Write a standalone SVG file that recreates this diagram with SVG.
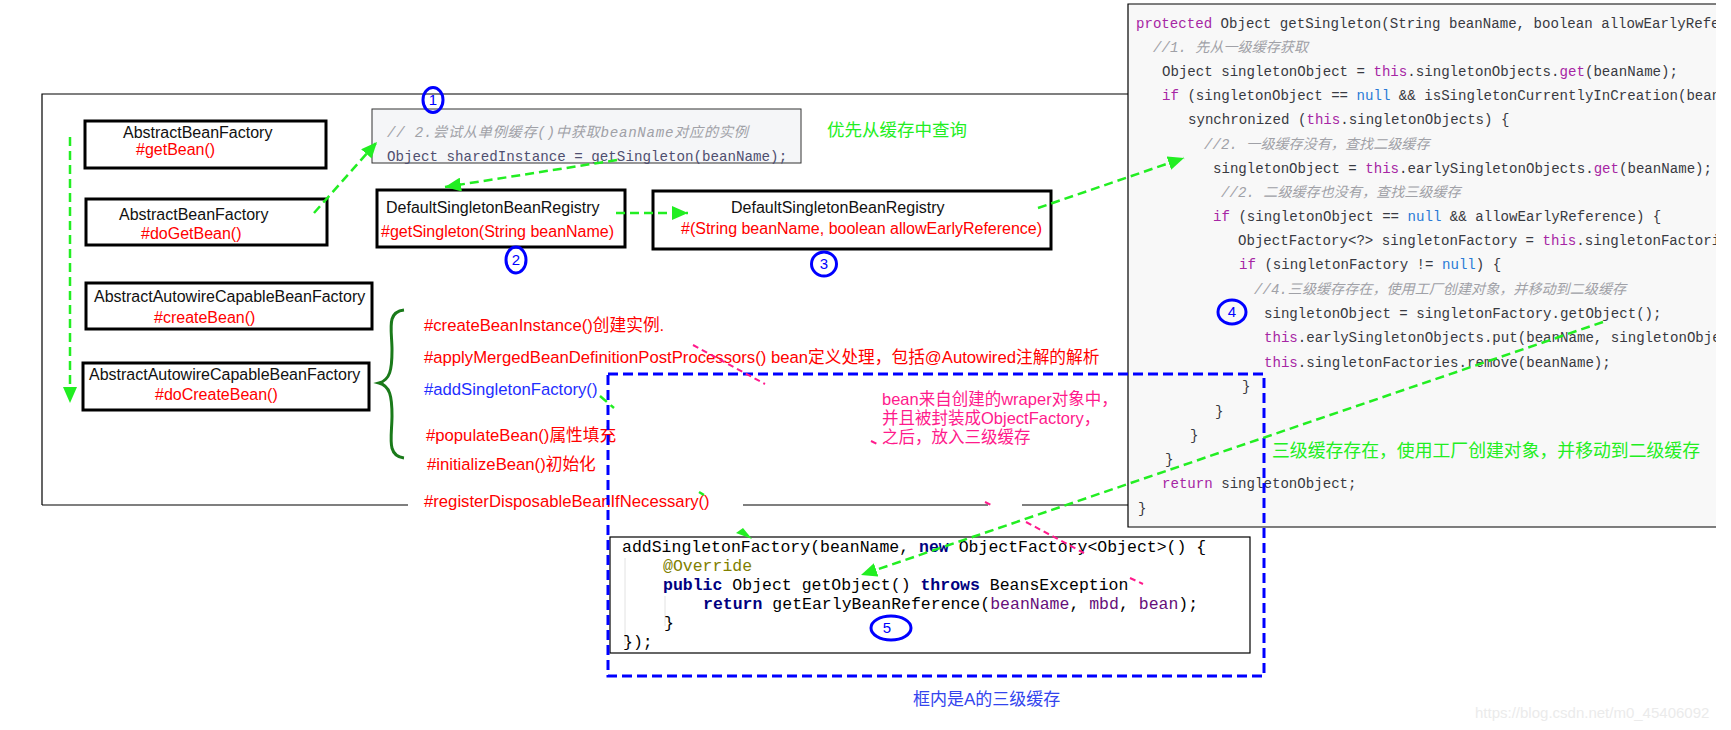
<svg xmlns="http://www.w3.org/2000/svg" width="1731" height="730" viewBox="0 0 1731 730">
<style>
.box{fill:#fff;stroke:#000;stroke-width:3}
.sans{font-family:"Liberation Sans","Noto Sans CJK SC",sans-serif}
.blk{fill:#111;font-size:16px}
.red{fill:#ff0000;font-size:16px}
.item{fill:#ff0000;font-size:16.7px}
.mono{font-family:"Liberation Mono","Noto Sans CJK SC",monospace;font-size:14.1px;fill:#383a42}
.cm{fill:#a0a1a7;font-style:italic}
.kw{fill:#a626a4}
.nl{fill:#2a7bd6}
.cmono{font-family:"Liberation Mono","Noto Sans CJK SC",monospace;font-size:16.5px;fill:#000}
.nv{fill:#000080;font-weight:bold}
.num{fill:none;stroke:#0000ff;stroke-width:3}
.numt{fill:#0000ff;font-size:15px;text-anchor:middle}
.gd{fill:none;stroke:#22ee22;stroke-width:2.5;stroke-dasharray:9 5}
.mg{fill:none;stroke:#ff1a8c;stroke-width:2;stroke-dasharray:6 4}
.ol{fill:none;stroke:#000;stroke-width:1.2}
</style>
<defs>
<marker id="ga" markerWidth="18" markerHeight="14" refX="16" refY="7" orient="auto" markerUnits="userSpaceOnUse"><path d="M0,0 L16,7 L0,14 Z" fill="#22ee22"/></marker>
<clipPath id="pc"><rect x="1128" y="4" width="588" height="523"/></clipPath>
</defs>
<rect width="1731" height="730" fill="#fff"/>

<g id="outer-frame">
<path class="ol" d="M42,505 V94 H1128"/>
<path class="ol" d="M42,505 H408 M743,505 H988 M1022,505 H1128"/>
</g>

<g id="code-panel">
<rect x="1128" y="4" width="588" height="523" fill="#f8f8f8"/>
<path d="M1716,4 H1128 V527 H1716" fill="none" stroke="#000" stroke-width="1.2"/>
<g clip-path="url(#pc)" class="mono">
<text x="1136" y="28"><tspan class="kw">protected</tspan> Object getSingleton(String beanName, boolean allowEarlyRefe</text>
<text x="1153" y="52" class="cm">//1. 先从一级缓存获取</text>
<text x="1162" y="76">Object singletonObject = <tspan class="kw">this</tspan>.singletonObjects.<tspan class="kw">get</tspan>(beanName);</text>
<text x="1162" y="100"><tspan class="kw">if</tspan> (singletonObject == <tspan class="nl">null</tspan> &amp;&amp; isSingletonCurrentlyInCreation(bean</text>
<text x="1188" y="124">synchronized (<tspan class="kw">this</tspan>.singletonObjects) {</text>
<text x="1204" y="149" class="cm">//2. 一级缓存没有，查找二级缓存</text>
<text x="1213" y="173">singletonObject = <tspan class="kw">this</tspan>.earlySingletonObjects.<tspan class="kw">get</tspan>(beanName);</text>
<text x="1221" y="197" class="cm">//2. 二级缓存也没有，查找三级缓存</text>
<text x="1213" y="221"><tspan class="kw">if</tspan> (singletonObject == <tspan class="nl">null</tspan> &amp;&amp; allowEarlyReference) {</text>
<text x="1238" y="245">ObjectFactory&lt;?&gt; singletonFactory = <tspan class="kw">this</tspan>.singletonFactori</text>
<text x="1239" y="269"><tspan class="kw">if</tspan> (singletonFactory != <tspan class="nl">null</tspan>) {</text>
<text x="1254" y="294" class="cm">//4.三级缓存存在，使用工厂创建对象，并移动到二级缓存</text>
<text x="1264" y="318">singletonObject = singletonFactory.getObject();</text>
<text x="1264" y="342"><tspan class="kw">this</tspan>.earlySingletonObjects.put(beanName, singletonObje</text>
<text x="1264" y="367"><tspan class="kw">this</tspan>.singletonFactories.remove(beanName);</text>
<text x="1242" y="391">}</text>
<text x="1215" y="416">}</text>
<text x="1190" y="440">}</text>
<text x="1165" y="464">}</text>
<text x="1162" y="488"><tspan class="kw">return</tspan> singletonObject;</text>
<text x="1138" y="513">}</text>
</g>
</g>

<g id="node-getBean">
<rect class="box" x="85" y="121" width="241" height="47"/>
<text class="sans blk" x="123" y="138">AbstractBeanFactory</text>
<text class="sans red" x="136" y="155">#getBean()</text>
</g>
<g id="node-doGetBean">
<rect class="box" x="86" y="199" width="241" height="46"/>
<text class="sans blk" x="119" y="220">AbstractBeanFactory</text>
<text class="sans red" x="141" y="239">#doGetBean()</text>
</g>
<g id="node-createBean">
<rect class="box" x="86" y="283" width="286" height="46"/>
<text class="sans blk" x="94" y="302">AbstractAutowireCapableBeanFactory</text>
<text class="sans red" x="154" y="323">#createBean()</text>
</g>
<g id="node-doCreateBean">
<rect class="box" x="83" y="363" width="286" height="47"/>
<text class="sans blk" x="89" y="380">AbstractAutowireCapableBeanFactory</text>
<text class="sans red" x="155" y="400">#doCreateBean()</text>
</g>

<g id="node-sharedInstance">
<rect x="372" y="109" width="429" height="54" fill="#f5f6f8" stroke="#333" stroke-width="1"/>
<text x="387" y="137" class="mono cm" style="font-size:14.2px" textLength="361" lengthAdjust="spacing">// 2.尝试从单例缓存()中获取beanName对应的实例</text>
<text x="387" y="161" class="mono" style="font-size:14.2px;fill:#4f4f70">Object sharedInstance = getSingleton(beanName);</text>
</g>

<g id="node-getSingleton1">
<rect class="box" x="377" y="190" width="248" height="57"/>
<text class="sans blk" x="386" y="213">DefaultSingletonBeanRegistry</text>
<text class="sans red" x="381" y="237">#getSingleton(String beanName)</text>
</g>
<g id="node-getSingleton2">
<rect class="box" x="653" y="191" width="398" height="58"/>
<text class="sans blk" x="731" y="213">DefaultSingletonBeanRegistry</text>
<text class="sans red" x="681" y="234">#(String beanName, boolean allowEarlyReference)</text>
</g>

<g id="note-cache-first">
<text class="sans" x="827" y="136" style="fill:#22ee22;font-size:17.5px">优先从缓存中查询</text>
</g>

<g id="node-doCreateBean-steps">
<path d="M404,310 C386,312 392,330 392,350 C392,370 390,380 379,383 C390,386 392,396 392,416 C392,436 386,456 404,458" fill="none" stroke="#1a7a1a" stroke-width="3"/>
<text class="sans item" x="424" y="331">#createBeanInstance()创建实例.</text>
<text class="sans item" x="424" y="363">#applyMergedBeanDefinitionPostProcessors() bean定义处理，包括@Autowired注解的解析</text>
<text class="sans item" x="424" y="395" style="fill:#1f2fff">#addSingletonFactory()</text>
<text class="sans item" x="426" y="441">#populateBean()属性填充</text>
<text class="sans item" x="427" y="470">#initializeBean()初始化</text>
<text class="sans item" x="424" y="507">#registerDisposableBeanIfNecessary()</text>
</g>

<g id="note-wrapper">
<text class="sans" style="fill:#ff1a8c;font-size:16.5px"><tspan x="882" y="405">bean来自创建的wraper对象中，</tspan><tspan x="882" y="424">并且被封装成ObjectFactory，</tspan><tspan x="882" y="443">之后，放入三级缓存</tspan></text>
</g>

<g id="node-addSingletonFactory-code">
<rect x="610" y="537" width="640" height="116" fill="#fff" stroke="#000" stroke-width="1.2"/>
<path d="M625,558 V645 M665,596 V626" stroke="#e2e2e2" stroke-width="1"/>
<g class="cmono">
<text x="622" y="552">addSingletonFactory(beanName, <tspan class="nv">new</tspan> ObjectFactory&lt;Object&gt;() {</text>
<text x="663" y="571" style="fill:#808000">@Override</text>
<text x="663" y="590"><tspan class="nv">public</tspan> Object getObject() <tspan class="nv">throws</tspan> BeansException</text>
<text x="703" y="609"><tspan class="nv">return</tspan> getEarlyBeanReference(<tspan style="fill:#660e7a">beanName</tspan>, <tspan style="fill:#660e7a">mbd</tspan>, <tspan style="fill:#660e7a">bean</tspan>);</text>
<text x="664" y="628">}</text>
<text x="623" y="647">});</text>
</g>
</g>

<g id="third-level-cache-frame">
<rect x="608" y="374" width="656" height="302" fill="none" stroke="#0000ff" stroke-width="3" stroke-dasharray="10 5"/>
<text class="sans" x="913" y="705" style="fill:#3344ee;font-size:17px">框内是A的三级缓存</text>
</g>

<g id="note-third-level">
<text class="sans" x="1272" y="457" style="fill:#22ee22;font-size:18px" textLength="428" lengthAdjust="spacingAndGlyphs">三级缓存存在，使用工厂创建对象，并移动到二级缓存</text>
</g>

<g id="markers">
<ellipse class="num" cx="433" cy="100" rx="10" ry="12.5"/><text class="sans numt" x="433" y="105">1</text>
<ellipse class="num" cx="516" cy="260" rx="10" ry="13"/><text class="sans numt" x="516" y="265">2</text>
<ellipse class="num" cx="824" cy="264" rx="12.5" ry="12"/><text class="sans numt" x="824" y="269">3</text>
<ellipse class="num" cx="1232" cy="312" rx="14" ry="12"/><text class="sans numt" x="1232" y="317">4</text>
<ellipse class="num" cx="891" cy="628" rx="20" ry="12"/><text class="sans numt" x="887" y="633">5</text>
</g>

<g id="connectors">
<line class="gd" x1="70" y1="137" x2="70" y2="403" marker-end="url(#ga)"/>
<line class="gd" x1="314" y1="213" x2="377" y2="142" marker-end="url(#ga)"/>
<line class="gd" x1="617" y1="160" x2="445" y2="187" marker-end="url(#ga)"/>
<line class="gd" x1="616" y1="213" x2="688" y2="213" marker-end="url(#ga)"/>
<line class="gd" x1="1038" y1="208" x2="1184" y2="158" marker-end="url(#ga)"/>
<line class="gd" x1="1603" y1="322" x2="861" y2="575" marker-end="url(#ga)"/>
<line class="gd" x1="600" y1="396" x2="614" y2="408"/>
<line class="gd" x1="699" y1="492" x2="704" y2="495"/>
<path d="M736,533 L752,539 L743,528 Z" fill="#22ee22"/>
<line class="mg" x1="693" y1="345" x2="765" y2="384"/>
<line class="mg" x1="871" y1="441" x2="877" y2="444"/>
<line class="mg" x1="985" y1="502" x2="991" y2="505"/>
<line class="mg" x1="1026" y1="522" x2="1084" y2="553"/>
<line class="mg" x1="1130" y1="578" x2="1143" y2="584"/>
</g>

<text class="sans" x="1475" y="718" style="fill:#ebebeb;font-size:15px">https://blog.csdn.net/m0_45406092</text>
</svg>
